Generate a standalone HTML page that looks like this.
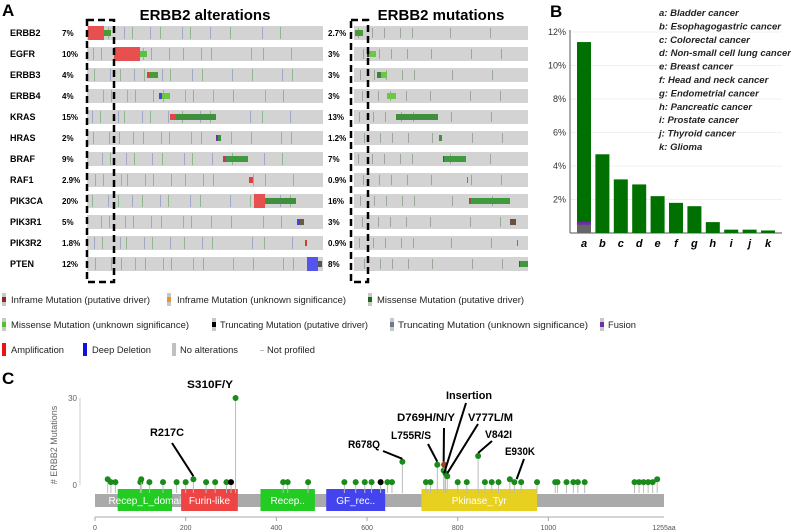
<!DOCTYPE html>
<html><head><meta charset="utf-8"><style>
body{margin:0;background:#fff;}
svg{display:block;font-family:"Liberation Sans",sans-serif;}
.b{font-weight:bold}
</style></head><body>
<svg id="s" width="791" height="532" viewBox="0 0 791 532">
<text x="2" y="16" font-size="17" class="b">A</text>
<text x="205" y="20" font-size="15" class="b" text-anchor="middle">ERBB2 alterations</text>
<text x="441" y="20" font-size="15" class="b" text-anchor="middle">ERBB2 mutations</text>
<text x="550" y="17" font-size="17" class="b">B</text>
<text x="2" y="384" font-size="17" class="b">C</text>
<g id="gA"></g>
<rect x="87" y="20" width="27" height="262" fill="none" stroke="#000" stroke-width="2.5" stroke-dasharray="7,4"/>
<rect x="351" y="20" width="17" height="262" fill="none" stroke="#000" stroke-width="2.5" stroke-dasharray="7,4"/>
<g id="leg" font-size="9.5" fill="#222"></g>
<g id="gB"></g>
<g id="gC"></g>
</svg>
<script>
const NS='http://www.w3.org/2000/svg';
function mk(p,t,a,txt){const e=document.createElementNS(NS,t);for(const k in a)e.setAttribute(k,a[k]);if(txt!==undefined)e.textContent=txt;p.appendChild(e);return e;}
// ---- Panel A data ----
const genes=['ERBB2','EGFR','ERBB3','ERBB4','KRAS','HRAS','BRAF','RAF1','PIK3CA','PIK3R1','PIK3R2','PTEN'];
const pctAlt=['7%','10%','4%','4%','15%','2%','9%','2.9%','20%','5%','1.8%','12%'];
const pctMut=['2.7%','3%','3%','3%','13%','1.2%','7%','0.9%','16%','3%','0.9%','8%'];
const blocksL=[[0,88,104,'#e85050'],[0,104,111,'#4a9a3a'],[1,114,140,'#e85050'],[1,140,147,'#5cc040'],[2,147,150,'#e04040'],[2,150,158,'#4a9a3a'],[3,159,162,'#4444dd'],[3,162,170,'#6cc840'],[4,170,176,'#e04848'],[4,176,216,'#3f8f3f'],[5,216,218,'#7030a0'],[5,218,221,'#3f8f3f'],[6,223,226,'#d03070'],[6,226,248,'#3f9a3f'],[7,249,253,'#e04040'],[8,254,265,'#e85050'],[8,265,296,'#3f8f3f'],[9,297,300,'#4444dd'],[9,300,304,'#6a5a40'],[10,305,307,'#cc4030'],[11,307,318,'#5555ee'],[11,318,322,'#555']];
const blocksR=[[0,355,363,'#4a9a3a'],[1,367,369,'#333'],[1,369,376,'#6cc840'],[2,377,381,'#3f7f3f'],[2,381,387,'#6cc840'],[3,387,396,'#6cc840'],[4,396,438,'#3f8f3f'],[5,439,442,'#3f8f3f'],[6,443,444,'#7030a0'],[6,444,466,'#3f9a3f'],[7,467,468,'#4a9a3a'],[8,469,471,'#8a5a40'],[8,471,510,'#3f9a3f'],[9,510,516,'#6a5040'],[10,517,518,'#4a9a3a'],[11,519,520,'#7030a0'],[11,520,528,'#3f9a3f']];
const ticksL=[92,100,108,118,124,132,142,150,160,168,182,190,200,210,230,250,262,280,290];
const ticksR=[358,362,372,378,384,390,400,406,412,430,450,470,490,500];
const gA=document.getElementById('gA');
genes.forEach((g,i)=>{
  const y=26+i*21;
  let t=mk(gA,'text',{x:10,y:y+10,'font-size':9,'font-weight':'bold'},g);
  
  
  t=mk(gA,'text',{x:62,y:y+10,'font-size':8,'font-weight':'bold'},pctAlt[i]);
  
  
  t=mk(gA,'text',{x:328,y:y+10,'font-size':8,'font-weight':'bold'},pctMut[i]);
  
  
  let r=mk(gA,'rect',{x:87,y:y,width:236,height:14,fill:'#d3d3d3'});
  
  
  r=mk(gA,'rect',{x:354,y:y,width:174,height:14,fill:'#d3d3d3'});
  
  
  ticksL.forEach((x,k)=>{if((k+i)%3!==0){const c=['#c89090','#a0a8c8','#90b890'][(k+i)%3];mk(gA,'rect',{x:x+(i%4),y:y+1,width:1,height:12,fill:c});}});
  ticksR.forEach((x,k)=>{if((k+i)%2===0){mk(gA,'rect',{x:x+(i%3),y:y+2,width:1,height:10,fill:'#9aa89a'});}});
});
blocksL.concat(blocksR).forEach(b=>{
  const y=26+b[0]*21;
  const r=mk(gA,'rect',{x:b[1],y:y,width:b[2]-b[1],height:14,fill:b[3]});
  if(b[3]!=='#e85050'&&b[3]!=='#5555ee'){r.setAttribute('y',y+4);r.setAttribute('height',6);}
  
  
});
// ---- Legend ----
const legItems=[[2,300,'#8b2a1a','Inframe Mutation (putative driver)',1,11,139],[167,300,'#f09030','Inframe Mutation (unknown significance)',1,177,169],[368,300,'#1a6a1a','Missense Mutation (putative driver)',1,377,147],
[2,325,'#50c030','Missense Mutation (unknown significance)',1,11,178],[212,325,'#000','Truncating Mutation (putative driver)',1,220,148],[390,325,'#707890','Truncating Mutation (unknown significance)',1,398,190],[600,325,'#7030a0','Fusion',1,608,28],
[2,350,'#ee1111','Amplification',0,11,53],[83,350,'#1111dd','Deep Deletion',0,92,59],[172,350,'#c0c0c0','No alterations',0,180,58],[258,350,'','Not profiled',0,267,48]];
const leg=document.getElementById('leg');
legItems.forEach(l=>{
  if(l[2]){mk(leg,'rect',{x:l[0],y:l[1]-7,width:4,height:13,fill:l[4]?'#c8c8c8':l[2]});
  if(l[4])mk(leg,'rect',{x:l[0],y:l[1]-3,width:4,height:5,fill:l[2]});}
  else mk(leg,'rect',{x:l[0]+2,y:l[1],width:4,height:1,fill:'#bbb'});
  const t=mk(leg,'text',{x:l[5],y:l[1]+3,textLength:l[6],lengthAdjust:'spacingAndGlyphs'},l[3]);
  
  
});
// ---- Panel B ----
const cats=['a','b','c','d','e','f','g','h','i','j','k'];
const vals=[11.4,4.7,3.2,2.9,2.2,1.8,1.6,0.65,0.2,0.2,0.15];
const grayA=0.5, purpleA=0.15;
const yTicks=[2,4,6,8,10,12];
const catNames=['a: Bladder cancer','b: Esophagogastric cancer','c: Colorectal cancer','d: Non-small cell lung cancer','e: Breast cancer','f: Head and neck cancer','g: Endometrial cancer','h: Pancreatic cancer','i: Prostate cancer','j: Thyroid cancer','k: Glioma'];
const gB=document.getElementById('gB');
const by=v=>233-v*16.75, bx=i=>577+i*18.4;
yTicks.forEach(v=>{
  mk(gB,'line',{x1:570,x2:782,y1:by(v),y2:by(v),stroke:'#f0f0f0'});
  const t=mk(gB,'text',{x:566,y:by(v)+3,'font-size':9,'text-anchor':'end',fill:'#333'},v+'%');
  
  
});
mk(gB,'line',{x1:570,x2:570,y1:30,y2:233,stroke:'#555'});
mk(gB,'line',{x1:570,x2:782,y1:233,y2:233,stroke:'#555'});
cats.forEach((c,i)=>{
  const r=mk(gB,'rect',{x:bx(i),y:by(vals[i]),width:14,height:233-by(vals[i]),fill:'#007000'});
  
  
  const t=mk(gB,'text',{x:bx(i)+7,y:247,'font-size':11,'font-weight':'bold','font-style':'italic','text-anchor':'middle'},c);
  
  
});
mk(gB,'rect',{x:bx(0),y:by(grayA),width:14,height:233-by(grayA),fill:'#666'});
mk(gB,'rect',{x:bx(0),y:by(grayA+purpleA),width:14,height:by(grayA)-by(grayA+purpleA),fill:'#8020c0'});
catNames.forEach((n,i)=>{
  const t=mk(gB,'text',{x:659,y:16+i*13.4,'font-size':9.5,'font-weight':'bold','font-style':'italic',fill:'#222'},n);
  
  
});
// ---- Panel C ----
const mutPos=[28,35,45,100,102,120,150,180,200,217,245,265,290,300,310,415,425,470,550,575,595,610,630,645,655,678,730,740,755,769,770,773,777,800,820,845,860,875,890,915,925,940,975,1015,1020,1040,1055,1065,1080,1190,1200,1210,1220,1230,1240];
const mutCnt=[2,1,1,1,2,1,1,1,1,2,1,1,1,1,30,1,1,1,1,1,1,1,1,1,1,8,1,1,7,5,7,4,3,1,1,10,1,1,1,2,1,1,1,1,1,1,1,1,1,1,1,1,1,1,2];
const xTicks=[0,200,400,600,800,1000];
const domains=[[50,170,'#22cc22','Recep_L_domai'],[190,315,'#ee4444','Furin-like'],[365,485,'#22cc22','Recep..'],[510,640,'#4444ee','GF_rec..'],[720,975,'#e8d020','Pkinase_Tyr']];
// [label, aa position, count, label x, label y, label width, line end x, line end y]
const annots=[['S310F/Y',310,30,187,388,46,null,null],['R217C',217,2,150,436,34,172,443],['R678Q',678,8,348,448,32,383,451],['L755R/S',755,7,391,439,40,428,444],['D769H/N/Y',769,7,397,421,58,444,428],['Insertion',770,3,446,399,46,466,403],['V777L/M',777,3,468,421,45,478,424],['V842I',845,10,485,438,27,492,441],['E930K',930,1,505,455,30,524,459]];
const gC=document.getElementById('gC');
const cx=a=>95+a*569/1255, cy=v=>485-v*2.9;
mk(gC,'line',{x1:80,x2:80,y1:cy(30),y2:cy(0),stroke:'#ccc'});
[0,30].forEach(v=>{mk(gC,'text',{x:77,y:cy(v)+3,'font-size':8,'text-anchor':'end',fill:'#666'},v);});
let yt=mk(gC,'text',{x:57,y:445,'font-size':9,fill:'#666','text-anchor':'middle',transform:'rotate(-90 57 445)'},'# ERBB2 Mutations');


mk(gC,'rect',{x:cx(0),y:494,width:cx(1255)-cx(0),height:13,fill:'#aaa'});
domains.forEach(d=>{
  const r=mk(gC,'rect',{x:cx(d[0]),y:489,width:cx(d[1])-cx(d[0]),height:22,fill:d[2]});
  
  
  mk(gC,'text',{x:(cx(d[0])+cx(d[1]))/2,y:504,'font-size':10,fill:'#fff','text-anchor':'middle'},d[3]);
});
mk(gC,'line',{x1:cx(0),x2:cx(1255),y1:517,y2:517,stroke:'#aaa'});
xTicks.forEach(v=>{mk(gC,'line',{x1:cx(v),x2:cx(v),y1:517,y2:521,stroke:'#aaa'});mk(gC,'text',{x:cx(v),y:530,'font-size':7,'text-anchor':'middle',fill:'#555'},v);});
mk(gC,'text',{x:cx(1255),y:530,'font-size':7,'text-anchor':'middle',fill:'#555'},'1255aa');
mutPos.forEach((p,i)=>{
  mk(gC,'line',{x1:cx(p),x2:cx(p),y1:cy(0)+8,y2:cy(mutCnt[i]),stroke:'#bbb'});
  const c=mk(gC,'circle',{cx:cx(p),cy:cy(mutCnt[i]),r:3,fill:(p===300||p===630)?'#000':(p===770?'#a04020':'#1a8a1a')});
  
  
});
annots.forEach(a=>{
  const x0=cx(a[1]),y0=cy(a[2]);
  if(a[6]!==null)mk(gC,'line',{x1:x0,y1:y0-3,x2:a[6],y2:a[7],stroke:'#000','stroke-width':2});
  const t=mk(gC,'text',{x:a[3],y:a[4],'font-size':11,'font-weight':'bold',textLength:a[5],lengthAdjust:'spacingAndGlyphs'},a[0]);
  
  
});
</script>
</body></html>
